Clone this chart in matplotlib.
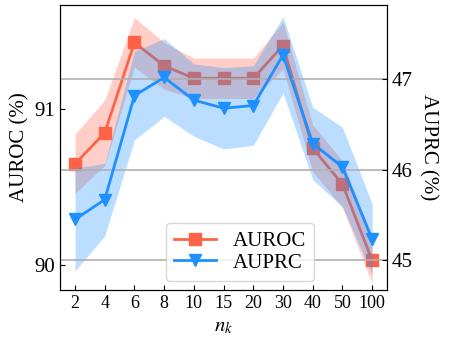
import numpy as np
import matplotlib
matplotlib.use('Agg')
import matplotlib.pyplot as plt

plt.rcParams['font.family'] = 'Liberation Serif'
plt.rcParams['mathtext.fontset'] = 'stix'

nk = ['2', '4', '6', '8', '10', '15', '20', '30', '40', '50', '100']
auroc = [90.65, 90.85, 91.43, 91.28, 91.2, 91.2, 91.2, 91.41, 90.75, 90.52, 90.03]
auroc_std = [0.19, 0.21, 0.16, 0.15, 0.13, 0.13, 0.13, 0.15, 0.15, 0.15, 0.15]
auprc = [45.45, 45.67, 46.82, 47.02, 46.77, 46.68, 46.71, 47.27, 46.29, 46.03, 45.23]
auprc_std = [0.57, 0.40, 0.49, 0.43, 0.40, 0.45, 0.44, 0.42, 0.40, 0.44, 0.39]

red = '#FF6347'
blue = '#1E90FF'
x = np.arange(len(nk))
auroc = np.array(auroc); auroc_std = np.array(auroc_std)
auprc = np.array(auprc); auprc_std = np.array(auprc_std)

fig, ax = plt.subplots(figsize=(4.49, 3.42), dpi=100)
fig.subplots_adjust(left=0.134, right=0.862, top=0.985, bottom=0.152)

ax.fill_between(x, auroc - auroc_std, auroc + auroc_std, color=red, alpha=0.3, lw=0)
l1, = ax.plot(x, auroc, color=red, marker='s', markersize=8, lw=2, label='AUROC')
ax.set_ylim(89.84, 91.67)
ax.set_yticks([90, 91])
ax.set_xlim(-0.5, 10.5)
ax.set_xticks(x)
ax.set_xticklabels(nk)
ax.set_ylabel('AUROC (%)', fontsize=15)
ax.set_xlabel('$n_k$', fontsize=15)
ax.tick_params(direction='in', labelsize=15)
ax.tick_params(axis='x', labelsize=13)

ax2 = ax.twinx()
ax2.grid(axis='y', color='#b0b0b0', lw=1.2)
ax2.fill_between(x, auprc - auprc_std, auprc + auprc_std, color=blue, alpha=0.3, lw=0)
l2, = ax2.plot(x, auprc, color=blue, marker='v', markersize=8, lw=2, label='AUPRC')
ax2.set_ylim(44.67, 47.82)
ax2.set_yticks([45, 46, 47])
ax2.set_ylabel('AUPRC (%)', fontsize=15, rotation=270, labelpad=18)
ax2.tick_params(direction='in', labelsize=15)

ax2.legend([l1, l2], ['AUROC', 'AUPRC'], loc='lower center', bbox_to_anchor=(0.55, -0.005),
           fontsize=15, handlelength=2.0, labelspacing=0.1, borderpad=0.4, handletextpad=0.8)

fig.savefig('out.png')
